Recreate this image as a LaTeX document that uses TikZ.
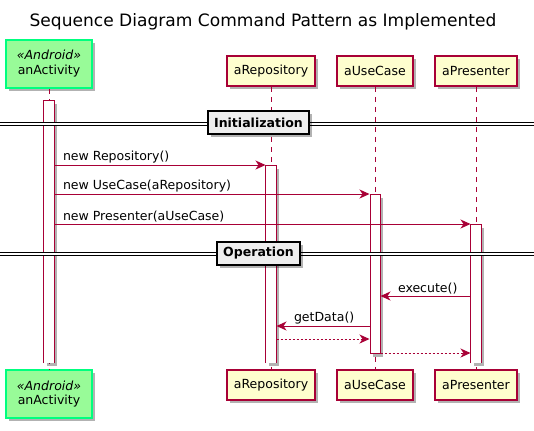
\documentclass[tikz,border=0pt]{standalone}
\usepackage{fontspec}
\setmainfont{DejaVu Sans}
\usetikzlibrary{arrows.meta,shadows}
\definecolor{rougevie}{HTML}{A80036}
\definecolor{fondpart}{HTML}{FEFECE}
\definecolor{fondvert}{HTML}{98FB98}
\definecolor{bordvert}{HTML}{00FF7F}
\definecolor{fondsep}{HTML}{EEEEEE}
\def\PX{0.75pt}
\begin{document}
\begin{tikzpicture}[x=0.75pt,y=-0.75pt,font=\fontsize{9.4}{11.2}\selectfont]
	\tikzstyle{ombre}=[drop shadow={shadow xshift=3*\PX,shadow yshift=-3*\PX,fill=black,opacity=0.3}]
	\tikzstyle{acteur}=[draw=rougevie,fill=fondpart,line width=1.5*\PX,minimum height=30*\PX,inner xsep=7*\PX,ombre]
	\tikzstyle{acteurvert}=[acteur,draw=bordvert,fill=fondvert,align=center,minimum width=86*\PX,minimum height=48*\PX]
	\tikzstyle{ligne}=[rougevie,line width=\PX,dash pattern=on 5*\PX off 5*\PX]
	\tikzstyle{activation}=[draw=rougevie,fill=white,line width=\PX,minimum width=10*\PX,inner sep=0pt,anchor=north,ombre]
	\tikzstyle{activationouverte}=[activation,draw=none]
	\tikzstyle{bordact}=[rougevie,line width=\PX]
	\tikzstyle{fleche}=[rougevie,line width=\PX,-{Stealth[length=10*\PX,width=9*\PX,inset=3*\PX]}]
	\tikzstyle{retour}=[fleche,dash pattern=on 2*\PX off 2*\PX]
	\tikzstyle{etiquette}=[black,inner sep=1*\PX,anchor=south west]
	\tikzstyle{separateur}=[black,line width=\PX,double,double distance=2*\PX]
	\tikzstyle{ombresep}=[black!20,line width=4*\PX,xshift=2*\PX,yshift=-3*\PX]
	\tikzstyle{boitesep}=[draw=black,fill=fondsep,line width=2*\PX,font=\fontsize{9.4}{11.2}\selectfont\bfseries,minimum height=23*\PX,inner xsep=6*\PX,ombre]
	
	\def\XActivite{49}
	\def\XDepot{271}
	\def\XCasUsage{375}
	\def\XPresentateur{476}
	
	\useasboundingbox (0,0) rectangle (534,430);
	
	\node (titre) at (263,22) {\fontsize{12.8}{15}\selectfont Sequence Diagram Command Pattern as Implemented};
	
	% participants, en haut et en bas
	\node[acteurvert] (A) at (\XActivite,64) {\textit{«Android»}\\anActivity};
	\node[acteur] (D) at (\XDepot,71) {aRepository};
	\node[acteur] (C) at (\XCasUsage,71) {aUseCase};
	\node[acteur] (P) at (\XPresentateur,71) {aPresenter};
	\node[acteurvert] (Ab) at (\XActivite,394) {\textit{«Android»}\\anActivity};
	\node[acteur] (Db) at (\XDepot,385) {aRepository};
	\node[acteur] (Cb) at (\XCasUsage,385) {aUseCase};
	\node[acteur] (Pb) at (\XPresentateur,385) {aPresenter};
	
	\draw[ligne] (A) -- (Ab);
	\draw[ligne] (D) -- (Db);
	\draw[ligne] (C) -- (Cb);
	\draw[ligne] (P) -- (Pb);
	
	% activations (ouvertes en bas quand elles durent jusqu'a la fin)
	\node[activationouverte,minimum height=262*\PX] (actA) at (\XActivite,100) {};
	\node[activationouverte,minimum height=197*\PX] (actD) at (\XDepot,165) {};
	\node[activation,minimum height=159*\PX] (actC) at (\XCasUsage,194) {};
	\node[activationouverte,minimum height=138*\PX] (actP) at (\XPresentateur,224) {};
	\draw[bordact] (actA.south west) -- (actA.north west) -- (actA.north east) -- (actA.south east);
	\draw[bordact] (actD.south west) -- (actD.north west) -- (actD.north east) -- (actD.south east);
	\draw[bordact] (actP.south west) -- (actP.north west) -- (actP.north east) -- (actP.south east);
	
	% separateurs
	\coordinate (sepG1) at (0,123.5);
	\coordinate (sepD1) at (534,123.5);
	\coordinate (sepG2) at (0,253.5);
	\coordinate (sepD2) at (534,253.5);
	\draw[ombresep] (sepG1) -- (sepD1);
	\draw[separateur] (sepG1) -- (sepD1);
	\node[boitesep] (init) at (258.5,122.5) {Initialization};
	\draw[ombresep] (sepG2) -- (sepD2);
	\draw[separateur] (sepG2) -- (sepD2);
	\node[boitesep] (oper) at (258.5,253.5) {Operation};
	
	% messages
	\coordinate (m1) at (0,165);
	\coordinate (m2) at (0,194);
	\coordinate (m3) at (0,224);
	\coordinate (m4) at (0,296);
	\coordinate (m5) at (0,326);
	\coordinate (m6) at (0,339);
	\coordinate (m7) at (0,353);
	
	\draw[fleche] (actA.east |- m1) -- (actD.west |- m1) node[etiquette,pos=0,xshift=7*\PX] {new Repository()};
	\draw[fleche] (actA.east |- m2) -- (actC.west |- m2) node[etiquette,pos=0,xshift=7*\PX] {new UseCase(aRepository)};
	\draw[fleche] (actA.east |- m3) -- (actP.west |- m3) node[etiquette,pos=0,xshift=7*\PX] {new Presenter(aUseCase)};
	\draw[fleche] (actP.west |- m4) -- (actC.east |- m4) node[etiquette,pos=1,xshift=16*\PX] {execute()};
	\draw[fleche] (actC.west |- m5) -- (actD.east |- m5) node[etiquette,pos=1,xshift=16*\PX] {getData()};
	\draw[retour] (actD.east |- m6) -- (actC.west |- m6);
	\draw[retour] (actC.east |- m7) -- (actP.west |- m7);
\end{tikzpicture}
\end{document}
